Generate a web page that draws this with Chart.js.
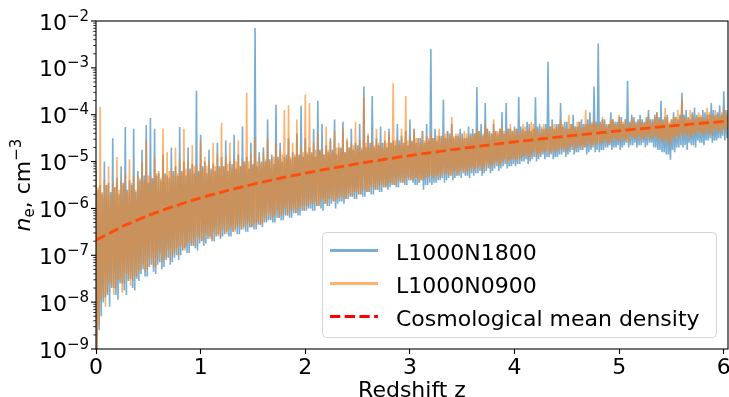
<!DOCTYPE html>
<html>
<head>
<meta charset="utf-8">
<script src="https://cdn.jsdelivr.net/npm/chart.js@4.4.1/dist/chart.umd.min.js"></script>
<style>
  body { margin: 0; background: #fff; }
  canvas { display: block; }
</style>
</head>
<body>
<canvas id="ne_chart" width="729" height="397"></canvas>
<script>
// redshift samples shared by both simulations
var redshift = [
  0,0.01,0.02,0.03,0.04,0.05,0.06,0.07,0.08,0.09,0.1,0.11,0.12,0.13,0.14,0.15,0.16,0.17,0.18,0.19,
  0.2,0.21,0.22,0.23,0.24,0.25,0.26,0.27,0.28,0.29,0.3,0.31,0.32,0.33,0.34,0.35,0.36,0.37,0.38,0.39,
  0.4,0.41,0.42,0.43,0.44,0.45,0.46,0.47,0.48,0.49,0.5,0.51,0.52,0.53,0.54,0.55,0.56,0.57,0.58,0.59,
  0.6,0.61,0.62,0.63,0.64,0.65,0.66,0.67,0.68,0.69,0.7,0.71,0.72,0.73,0.74,0.75,0.76,0.77,0.78,0.79,
  0.8,0.81,0.82,0.83,0.84,0.85,0.86,0.87,0.88,0.89,0.9,0.91,0.92,0.93,0.94,0.95,0.96,0.97,0.98,0.99,
  1,1.01,1.02,1.03,1.04,1.05,1.06,1.07,1.08,1.09,1.1,1.11,1.12,1.13,1.14,1.15,1.16,1.17,1.18,1.19,
  1.2,1.21,1.22,1.23,1.24,1.25,1.26,1.27,1.28,1.29,1.3,1.31,1.32,1.33,1.34,1.35,1.36,1.37,1.38,1.39,
  1.4,1.41,1.42,1.43,1.44,1.45,1.46,1.47,1.48,1.49,1.5,1.51,1.52,1.53,1.54,1.55,1.56,1.57,1.58,1.59,
  1.6,1.61,1.62,1.63,1.64,1.65,1.66,1.67,1.68,1.69,1.7,1.71,1.72,1.73,1.74,1.75,1.76,1.77,1.78,1.79,
  1.8,1.81,1.82,1.83,1.84,1.85,1.86,1.87,1.88,1.89,1.9,1.91,1.92,1.93,1.94,1.95,1.96,1.97,1.98,1.99,
  2,2.01,2.02,2.03,2.04,2.05,2.06,2.07,2.08,2.09,2.1,2.11,2.12,2.13,2.14,2.15,2.16,2.17,2.18,2.19,
  2.2,2.21,2.22,2.23,2.24,2.25,2.26,2.27,2.28,2.29,2.3,2.31,2.32,2.33,2.34,2.35,2.36,2.37,2.38,2.39,
  2.4,2.41,2.42,2.43,2.44,2.45,2.46,2.47,2.48,2.49,2.5,2.51,2.52,2.53,2.54,2.55,2.56,2.57,2.58,2.59,
  2.6,2.61,2.62,2.63,2.64,2.65,2.66,2.67,2.68,2.69,2.7,2.71,2.72,2.73,2.74,2.75,2.76,2.77,2.78,2.79,
  2.8,2.81,2.82,2.83,2.84,2.85,2.86,2.87,2.88,2.89,2.9,2.91,2.92,2.93,2.94,2.95,2.96,2.97,2.98,2.99,
  3,3.01,3.02,3.03,3.04,3.05,3.06,3.07,3.08,3.09,3.1,3.11,3.12,3.13,3.14,3.15,3.16,3.17,3.18,3.19,
  3.2,3.21,3.22,3.23,3.24,3.25,3.26,3.27,3.28,3.29,3.3,3.31,3.32,3.33,3.34,3.35,3.36,3.37,3.38,3.39,
  3.4,3.41,3.42,3.43,3.44,3.45,3.46,3.47,3.48,3.49,3.5,3.51,3.52,3.53,3.54,3.55,3.56,3.57,3.58,3.59,
  3.6,3.61,3.62,3.63,3.64,3.65,3.66,3.67,3.68,3.69,3.7,3.71,3.72,3.73,3.74,3.75,3.76,3.77,3.78,3.79,
  3.8,3.81,3.82,3.83,3.84,3.85,3.86,3.87,3.88,3.89,3.9,3.91,3.92,3.93,3.94,3.95,3.96,3.97,3.98,3.99,
  4,4.01,4.02,4.03,4.04,4.05,4.06,4.07,4.08,4.09,4.1,4.11,4.12,4.13,4.14,4.15,4.16,4.17,4.18,4.19,
  4.2,4.21,4.22,4.23,4.24,4.25,4.26,4.27,4.28,4.29,4.3,4.31,4.32,4.33,4.34,4.35,4.36,4.37,4.38,4.39,
  4.4,4.41,4.42,4.43,4.44,4.45,4.46,4.47,4.48,4.49,4.5,4.51,4.52,4.53,4.54,4.55,4.56,4.57,4.58,4.59,
  4.6,4.61,4.62,4.63,4.64,4.65,4.66,4.67,4.68,4.69,4.7,4.71,4.72,4.73,4.74,4.75,4.76,4.77,4.78,4.79,
  4.8,4.81,4.82,4.83,4.84,4.85,4.86,4.87,4.88,4.89,4.9,4.91,4.92,4.93,4.94,4.95,4.96,4.97,4.98,4.99,
  5,5.01,5.02,5.03,5.04,5.05,5.06,5.07,5.08,5.09,5.1,5.11,5.12,5.13,5.14,5.15,5.16,5.17,5.18,5.19,
  5.2,5.21,5.22,5.23,5.24,5.25,5.26,5.27,5.28,5.29,5.3,5.31,5.32,5.33,5.34,5.35,5.36,5.37,5.38,5.39,
  5.4,5.41,5.42,5.43,5.44,5.45,5.46,5.47,5.48,5.49,5.5,5.51,5.52,5.53,5.54,5.55,5.56,5.57,5.58,5.59,
  5.6,5.61,5.62,5.63,5.64,5.65,5.66,5.67,5.68,5.69,5.7,5.71,5.72,5.73,5.74,5.75,5.76,5.77,5.78,5.79,
  5.8,5.81,5.82,5.83,5.84,5.85,5.86,5.87,5.88,5.89,5.9,5.91,5.92,5.93,5.94,5.95,5.96,5.97,5.98,5.99,
  6,6.01,6.02,6.03,6.04
];

// log10(n_e / cm^-3), L1000N1800 (alternating local max / local min)
var logNeN1800 = [
  -5.2,-9.0,-5.6,-8.6,-5.5,-8.3,-5.7,-8.0,-5.0,-7.9,-5.5,-7.85,-5.45,-8.1,-5.65,-7.7,-4.5,-7.7,-5.55,-7.85,
  -5.35,-7.95,-5.7,-7.6,-5.1,-7.6,-5.45,-7.75,-4.26,-7.85,-5.6,-7.55,-5.4,-7.5,-5.5,-7.7,-4.3,-7.75,-5.65,-7.5,
  -5.2,-7.55,-5.4,-7.4,-4.75,-7.3,-5.3,-7.45,-4.22,-7.45,-5.45,-7.25,-4.07,-7.2,-5.35,-7.35,-4.3,-7.4,-5.3,-7.2,
  -5.25,-7.15,-5.4,-7.3,-4.85,-7.25,-5.25,-7.1,-5.3,-7.05,-5.35,-7.2,-4.7,-7.15,-5.2,-7.05,-5.1,-7.0,-5.3,-7.1,
  -4.26,-7.0,-5.2,-6.9,-5.0,-6.85,-5.3,-6.95,-4.7,-6.95,-5.15,-6.8,-5.05,-6.8,-5.25,-6.85,-3.49,-6.9,-5.2,-6.75,
  -4.43,-6.7,-5.1,-6.8,-5.0,-6.75,-5.25,-6.65,-4.75,-6.6,-5.15,-6.7,-5.05,-6.7,-5.2,-6.6,-4.6,-6.55,-5.1,-6.65,
  -4.9,-6.6,-5.1,-6.55,-4.55,-6.5,-5.2,-6.6,-5.0,-6.6,-5.05,-6.5,-4.43,-6.45,-5.15,-6.55,-4.85,-6.55,-5.1,-6.45,
  -4.25,-6.4,-5.0,-6.5,-4.9,-6.5,-5.15,-6.4,-4.6,-6.4,-5.05,-6.45,-2.15,-6.45,-5.1,-6.35,-4.8,-6.35,-5.0,-6.4,
  -4.7,-6.3,-5.0,-6.3,-4.1,-6.25,-4.95,-6.25,-4.85,-6.3,-5.05,-6.3,-3.79,-6.2,-4.9,-6.2,-4.6,-6.25,-5.0,-6.25,
  -4.9,-6.15,-4.85,-6.15,-4.5,-6.2,-4.95,-6.2,-4.8,-6.1,-4.9,-6.1,-4.4,-6.15,-4.85,-6.15,-3.81,-6.05,-4.9,-6.05,
  -4.5,-6.05,-4.85,-6.0,-4.7,-6.0,-4.8,-6.05,-4.3,-6.05,-4.9,-5.95,-3.7,-5.95,-4.75,-6.0,-4.2,-6.05,-4.85,-5.9,
  -4.65,-5.95,-4.8,-5.95,-4.5,-5.9,-4.75,-5.85,-4.1,-6.0,-4.85,-5.9,-4.7,-5.85,-4.7,-5.85,-4.15,-5.9,-4.8,-5.8,
  -4.55,-5.8,-4.7,-5.75,-4.3,-5.75,-4.75,-5.8,-4.6,-5.8,-4.65,-5.7,-4.2,-5.7,-4.75,-5.75,-3.4,-5.75,-4.7,-5.65,
  -4.45,-5.65,-4.6,-5.7,-3.6,-5.7,-4.7,-5.6,-4.5,-5.6,-4.65,-5.65,-4.25,-5.65,-4.6,-5.55,-4.55,-5.55,-4.7,-5.6,
  -4.3,-5.55,-4.6,-5.5,-4.55,-5.5,-4.65,-5.55,-4.2,-5.55,-4.55,-5.45,-4.45,-5.45,-4.6,-5.5,-4.35,-5.5,-4.65,-5.4,
  -4.1,-5.4,-4.55,-5.45,-4.3,-5.5,-4.6,-5.5,-4.5,-5.45,-4.5,-5.4,-4.35,-5.6,-4.6,-5.5,-4.2,-5.5,-4.55,-5.45,
  -2.6,-5.5,-4.5,-5.45,-4.3,-5.45,-4.55,-5.4,-4.45,-5.4,-4.45,-5.35,-3.68,-5.45,-4.5,-5.4,-4.35,-5.35,-4.4,-5.3,
  -4.2,-5.4,-4.5,-5.35,-4.45,-5.3,-4.45,-5.3,-4.3,-5.35,-4.4,-5.25,-4.5,-5.3,-4.5,-5.3,-4.25,-5.35,-4.4,-5.25,
  -4.3,-5.3,-4.4,-5.25,-3.41,-5.25,-4.35,-5.2,-4.2,-5.3,-4.45,-5.25,-3.75,-5.2,-4.3,-5.15,-4.35,-5.25,-4.4,-5.2,
  -4.2,-5.15,-4.35,-5.1,-4.4,-5.2,-4.3,-5.15,-3.95,-5.1,-4.4,-5.05,-3.75,-5.15,-4.3,-5.1,-4.3,-5.1,-4.35,-5.05,
  -4.25,-5.1,-4.3,-5.05,-3.62,-5.05,-4.25,-5.0,-4.3,-5.0,-4.35,-4.95,-4.15,-5.05,-4.2,-5.0,-4.35,-4.95,-4.3,-4.9,
  -3.63,-5.0,-4.25,-4.95,-4.2,-4.9,-4.3,-4.85,-4.3,-4.95,-4.2,-4.9,-2.87,-4.9,-4.25,-4.85,-4.1,-4.95,-4.3,-4.9,
  -4.2,-4.9,-4.2,-4.85,-3.75,-4.85,-4.25,-4.8,-4.15,-4.9,-4.15,-4.85,-4.3,-4.8,-4.2,-4.75,-4.0,-4.85,-4.25,-4.8,
  -4.25,-4.8,-4.15,-4.75,-4.1,-4.75,-4.2,-4.7,-4.2,-4.85,-4.1,-4.8,-3.95,-4.75,-4.2,-4.7,-3.4,-4.8,-4.15,-4.75,
  -2.48,-4.8,-4.15,-4.75,-4.1,-4.75,-4.1,-4.7,-4.2,-4.7,-4.2,-4.65,-3.95,-4.75,-4.1,-4.7,-4.15,-4.7,-4.15,-4.65,
  -4.05,-4.75,-4.05,-4.7,-4.2,-4.65,-4.1,-4.6,-3.28,-4.7,-4.15,-4.65,-4.0,-4.65,-4.05,-4.6,-4.15,-4.7,-4.1,-4.65,
  -4.0,-4.65,-4.1,-4.6,-4.15,-4.7,-4.05,-4.65,-3.9,-4.6,-4.1,-4.6,-4.1,-4.7,-4.0,-4.7,-3.95,-4.75,-4.05,-4.75,
  -3.7,-4.8,-4.1,-4.8,-4.05,-4.85,-4.0,-4.85,-4.2,-4.96,-4.1,-4.75,-3.95,-4.8,-4.05,-4.7,-4.1,-4.7,-4.0,-4.65,
  -3.53,-4.7,-4.0,-4.65,-3.9,-4.75,-4.05,-4.6,-4.1,-4.65,-3.95,-4.65,-3.85,-4.7,-4.0,-4.55,-4.05,-4.6,-4.05,-4.6,
  -3.9,-4.65,-3.95,-4.55,-4.0,-4.55,-4.0,-4.5,-3.75,-4.6,-3.9,-4.55,-4.0,-4.55,-3.95,-4.5,-3.8,-4.5,-4.0,-4.45,
  -3.5,-4.55,-3.9,-4.5,-3.9
];

// log10(n_e / cm^-3), L1000N0900 (alternating local max / local min)
var logNeN0900 = [
  -5.0,-9.0,-5.55,-8.5,-3.83,-7.95,-5.65,-7.9,-5.4,-8.1,-5.5,-7.8,-5.1,-7.6,-5.7,-7.65,-5.45,-7.85,-5.55,-7.7,
  -4.9,-7.5,-5.6,-7.55,-5.4,-7.8,-5.5,-7.6,-5.25,-7.4,-5.65,-7.5,-4.95,-7.65,-5.45,-7.55,-5.3,-7.45,-5.6,-7.45,
  -5.3,-7.35,-5.35,-7.3,-5.0,-7.2,-5.4,-7.35,-4.55,-7.3,-5.3,-7.2,-5.3,-7.05,-5.4,-7.25,-4.9,-7.25,-5.25,-7.1,
  -5.2,-6.95,-5.35,-7.15,-4.3,-7.1,-5.3,-7.05,-4.8,-6.9,-5.2,-7.1,-5.15,-7.0,-5.3,-6.95,-4.7,-6.85,-5.25,-7.0,
  -4.95,-6.8,-5.25,-6.85,-4.3,-6.9,-5.15,-6.8,-5.0,-6.7,-5.2,-6.75,-4.65,-6.75,-5.1,-6.8,-5.05,-6.6,-5.25,-6.65,
  -4.55,-6.7,-5.15,-6.7,-4.9,-6.55,-5.1,-6.6,-5.0,-6.65,-5.2,-6.65,-4.6,-6.5,-5.1,-6.55,-4.85,-6.6,-5.15,-6.6,
  -4.17,-6.45,-5.1,-6.5,-4.9,-6.55,-5.05,-6.45,-4.6,-6.4,-5.15,-6.5,-4.95,-6.5,-5.0,-6.4,-4.55,-6.35,-5.1,-6.45,
  -4.95,-6.45,-5.05,-6.35,-3.53,-6.3,-5.0,-6.4,-4.85,-6.4,-5.1,-6.35,-4.5,-6.3,-5.0,-6.3,-4.9,-6.35,-5.05,-6.35,
  -4.8,-6.2,-4.95,-6.25,-4.5,-6.1,-5.0,-6.2,-4.9,-6.2,-4.9,-6.15,-4.6,-6.05,-4.95,-6.2,-4.75,-6.15,-4.85,-6.1,
  -3.9,-6.0,-4.95,-6.15,-3.8,-6.1,-4.9,-6.05,-4.6,-6.0,-4.85,-6.1,-4.1,-6.05,-4.9,-6.0,-4.7,-5.95,-4.8,-6.05,
  -3.57,-5.95,-4.8,-5.95,-3.75,-5.9,-4.85,-5.9,-4.6,-5.85,-4.75,-5.95,-4.4,-5.95,-4.8,-5.85,-4.7,-5.8,-4.85,-5.9,
  -4.25,-5.9,-4.75,-5.8,-4.55,-5.8,-4.8,-5.85,-4.35,-5.85,-4.7,-5.8,-4.6,-5.75,-4.75,-5.75,-4.3,-5.8,-4.8,-5.8,
  -4.5,-5.7,-4.7,-5.7,-4.6,-5.75,-4.65,-5.65,-4.15,-5.65,-4.75,-5.7,-4.55,-5.7,-4.7,-5.6,-3.62,-5.6,-4.6,-5.65,
  -4.4,-5.65,-4.7,-5.55,-4.55,-5.55,-4.65,-5.6,-4.3,-5.6,-4.6,-5.5,-4.6,-5.5,-4.7,-5.55,-4.35,-5.55,-4.6,-5.5,
  -4.4,-5.45,-4.6,-5.45,-3.33,-5.5,-4.55,-5.5,-4.5,-5.4,-4.65,-5.4,-4.3,-5.45,-4.6,-5.45,-3.6,-5.35,-4.55,-5.35,
  -4.45,-5.4,-4.6,-5.4,-4.3,-5.35,-4.5,-5.35,-4.5,-5.45,-4.6,-5.4,-4.35,-5.4,-4.55,-5.35,-4.45,-5.35,-4.5,-5.3,
  -4.4,-5.35,-4.5,-5.35,-4.5,-5.3,-4.45,-5.3,-4.3,-5.35,-4.5,-5.3,-4.45,-5.25,-4.4,-5.25,-4.35,-5.3,-4.5,-5.3,
  -4.05,-5.25,-4.45,-5.2,-4.4,-5.3,-4.4,-5.25,-4.5,-5.2,-4.45,-5.2,-4.35,-5.25,-4.4,-5.2,-4.45,-5.2,-4.45,-5.15,
  -4.4,-5.2,-4.4,-5.15,-4.3,-5.15,-4.35,-5.1,-4.45,-5.2,-4.4,-5.15,-4.2,-5.1,-4.3,-5.05,-4.4,-5.15,-4.4,-5.1,
  -4.1,-5.05,-4.35,-5.0,-4.35,-5.1,-4.3,-5.05,-4.25,-5.0,-4.35,-4.95,-4.4,-5.05,-4.3,-5.0,-4.2,-4.95,-4.35,-4.95,
  -4.3,-5.0,-4.3,-4.95,-4.4,-4.95,-4.35,-4.9,-4.2,-4.9,-4.25,-4.85,-4.35,-4.95,-4.3,-4.9,-4.15,-4.85,-4.2,-4.8,
  -4.3,-4.9,-4.3,-4.85,-4.4,-4.85,-4.25,-4.8,-4.2,-4.8,-4.3,-4.75,-4.3,-4.85,-4.25,-4.8,-4.25,-4.8,-4.2,-4.75,
  -4.25,-4.8,-4.25,-4.75,-4.1,-4.75,-4.2,-4.7,-4.3,-4.8,-4.3,-4.75,-4.0,-4.7,-4.2,-4.65,-4.25,-4.75,-4.25,-4.7,
  -4.15,-4.7,-4.15,-4.65,-4.3,-4.75,-4.25,-4.7,-3.9,-4.65,-4.2,-4.6,-4.2,-4.7,-4.15,-4.65,-4.1,-4.65,-4.2,-4.6,
  -4.2,-4.65,-4.2,-4.6,-4.05,-4.6,-4.15,-4.55,-4.25,-4.65,-4.2,-4.6,-4.1,-4.6,-4.1,-4.5,-4.2,-4.55,-4.2,-4.55,
  -4.0,-4.6,-4.15,-4.5,-4.15,-4.55,-4.1,-4.55,-4.25,-4.6,-4.2,-4.45,-4.05,-4.5,-4.1,-4.5,-4.2,-4.55,-4.15,-4.45,
  -4.1,-4.55,-4.15,-4.5,-4.2,-4.5,-4.1,-4.45,-4.0,-4.55,-4.15,-4.5,-4.15,-4.5,-4.05,-4.45,-3.95,-4.55,-4.1,-4.5,
  -4.1,-4.6,-4.15,-4.55,-3.85,-4.55,-4.05,-4.6,-4.15,-4.65,-4.1,-4.5,-4.05,-4.55,-4.05,-4.45,-3.9,-4.5,-4.1,-4.4,
  -3.65,-4.5,-4.05,-4.4,-4.05,-4.45,-4.1,-4.45,-3.9,-4.5,-4.0,-4.4,-4.1,-4.45,-4.05,-4.35,-3.95,-4.4,-4.0,-4.4,
  -4.05,-4.45,-4.1,-4.35,-3.85,-4.4,-3.95,-4.4,-4.0,-4.45,-4.05,-4.3,-3.9,-4.35,-4.0,-4.35,-4.05,-4.4,-3.95,-4.3,
  -3.85,-4.35,-4.0,-4.3,-4.0
];

// cosmological mean electron density
var meanZ = [0,0.25,0.5,0.75,1,1.25,1.5,1.75,2,2.25,2.5,2.75,3,3.25,3.5,3.75,4,4.25,4.5,4.75,5,5.25,5.5,5.75,6,6.05];
var meanNe = [2.1e-7,4.1e-7,7.09e-7,1.125e-6,1.68e-6,2.39e-6,3.28e-6,4.37e-6,5.67e-6,7.21e-6,9.0e-6,1.107e-5,1.344e-5,
  1.612e-5,1.914e-5,2.25e-5,2.625e-5,3.04e-5,3.49e-5,3.99e-5,4.54e-5,5.13e-5,5.77e-5,6.46e-5,7.2e-5,7.36e-5];

var seriesNames = ['L1000N1800', 'L1000N0900', 'Cosmological mean density'];
var xTicks = [0, 1, 2, 3, 4, 5, 6];
var yDecades = [-9, -8, -7, -6, -5, -4, -3, -2];

var FONT = "'DejaVu Sans', sans-serif";
var BLUE = 'rgba(31,119,180,0.6)';
var ORANGE = 'rgba(255,127,14,0.6)';
var RED = '#ff0000';
var DASH = [10.3, 4.4];

function toPoints(xs, logs) {
    return xs.map(function(z, i) { return {x: z, y: Math.pow(10, logs[i])}; });
}

// spines, log ticks, tick labels, axis titles and legend, matplotlib style
var decorations = {
    id: 'decorations',
    afterDraw: function(chart) {
        var ctx = chart.ctx;
        var a = chart.chartArea;
        var ys = chart.scales.y;
        ctx.save();

        //y ticks (major + minor)
        ctx.strokeStyle = '#000';
        ctx.lineWidth = 1.1;
        yDecades.forEach(function(d) {
            var py = ys.getPixelForValue(Math.pow(10, d));
            ctx.beginPath(); ctx.moveTo(a.left, py); ctx.lineTo(a.left - 5, py); ctx.stroke();
            if (d < -2) {
                for (var m = 2; m < 10; m++) {
                    var pm = ys.getPixelForValue(m * Math.pow(10, d));
                    ctx.lineWidth = 0.8;
                    ctx.beginPath(); ctx.moveTo(a.left, pm); ctx.lineTo(a.left - 2.8, pm); ctx.stroke();
                    ctx.lineWidth = 1.1;
                }
            }
        });

        //y tick labels: 10 with superscript exponent
        ctx.fillStyle = '#000';
        ctx.textBaseline = 'alphabetic';
        ctx.textAlign = 'left';
        yDecades.forEach(function(d) {
            var py = ys.getPixelForValue(Math.pow(10, d));
            var sup = '\u2212' + Math.abs(d);
            ctx.font = '15px ' + FONT;
            var supW = ctx.measureText(sup).width;
            ctx.font = '22px ' + FONT;
            var tenW = ctx.measureText('10').width;
            var x0 = 89 - supW - tenW;
            ctx.fillText('10', x0, py + 8.5);
            ctx.font = '15px ' + FONT;
            ctx.fillText(sup, x0 + tenW, py - 0.5);
        });

        //y axis title: n_e, cm^-3
        var parts = [
            {t: 'n', f: 'oblique 22px ' + FONT, dy: 0},
            {t: 'e', f: '15px ' + FONT, dy: 4.5},
            {t: ', cm', f: '22px ' + FONT, dy: 0},
            {t: '\u22123', f: '15px ' + FONT, dy: -9}
        ];
        var total = 0;
        parts.forEach(function(p) { ctx.font = p.f; p.w = ctx.measureText(p.t).width; total += p.w; });
        ctx.save();
        ctx.translate(29.5, (a.top + a.bottom) / 2 + total / 2);
        ctx.rotate(-Math.PI / 2);
        var cx = 0;
        parts.forEach(function(p) { ctx.font = p.f; ctx.fillText(p.t, cx, p.dy); cx += p.w; });
        ctx.restore();

        //x axis title
        ctx.font = '22px ' + FONT;
        ctx.textAlign = 'center';
        ctx.fillText('Redshift z', (a.left + a.right) / 2, 396.5);

        //spines
        ctx.strokeStyle = '#000';
        ctx.lineWidth = 1.1;
        ctx.strokeRect(a.left, a.top, a.right - a.left, a.bottom - a.top);

        //legend
        ctx.beginPath();
        ctx.roundRect(322.5, 232.5, 394, 105, 4);
        ctx.fillStyle = 'rgba(255,255,255,0.8)';
        ctx.fill();
        ctx.strokeStyle = '#d5d5d5';
        ctx.lineWidth = 1;
        ctx.stroke();
        var swatches = [{c: BLUE, d: []}, {c: ORANGE, d: []}, {c: RED, d: DASH}];
        ctx.textAlign = 'left';
        ctx.font = '22px ' + FONT;
        seriesNames.forEach(function(name, i) {
            var ly = 250.5 + i * 33;
            ctx.strokeStyle = swatches[i].c;
            ctx.lineWidth = 3;
            ctx.setLineDash(swatches[i].d);
            ctx.beginPath(); ctx.moveTo(330, ly); ctx.lineTo(378, ly); ctx.stroke();
            ctx.setLineDash([]);
            ctx.fillStyle = '#000';
            ctx.fillText(name, 396, ly + 9);
        });
        ctx.restore();
    }
};

var chart = new Chart(document.getElementById('ne_chart'), {
    type: 'line',
    data: {
        datasets: [{
            label: seriesNames[0],
            data: toPoints(redshift, logNeN1800),
            borderColor: BLUE,
            borderWidth: 1.6,
            borderJoinStyle: 'bevel',
            pointRadius: 0,
            tension: 0,
            order: 3
        }, {
            label: seriesNames[2],
            data: meanZ.map(function(z, i) { return {x: z, y: meanNe[i]}; }),
            borderColor: RED,
            borderWidth: 2.8,
            borderDash: DASH,
            pointRadius: 0,
            tension: 0,
            order: 2
        }, {
            label: seriesNames[1],
            data: toPoints(redshift, logNeN0900),
            borderColor: ORANGE,
            borderWidth: 1.6,
            borderJoinStyle: 'bevel',
            pointRadius: 0,
            tension: 0,
            order: 1
        }]
    },
    options: {
        responsive: false,
        animation: false,
        devicePixelRatio: 1,
        layout: { padding: { top: 21, right: 1, left: 0, bottom: 0 } },
        plugins: {
            legend: { display: false },
            tooltip: { enabled: false }
        },
        scales: {
            x: {
                type: 'linear',
                min: 0,
                max: 6.04,
                afterBuildTicks: function(s) { s.ticks = xTicks.map(function(v) { return {value: v}; }); },
                ticks: {
                    font: { family: FONT, size: 22 },
                    color: '#000',
                    padding: 1,
                    maxRotation: 0,
                    autoSkip: false
                },
                grid: { drawOnChartArea: false, drawTicks: true, tickLength: 5, tickColor: '#000', tickWidth: 1.1 },
                border: { display: false },
                afterFit: function(s) { s.height = 48; s.paddingLeft = 0; s.paddingRight = 0; }
            },
            y: {
                type: 'logarithmic',
                min: 1e-9,
                max: 1e-2,
                ticks: { display: false },
                grid: { display: false },
                border: { display: false },
                afterFit: function(s) { s.width = 96; s.paddingTop = 0; s.paddingBottom = 0; }
            }
        }
    },
    plugins: [decorations]
});
</script>
</body>
</html>
